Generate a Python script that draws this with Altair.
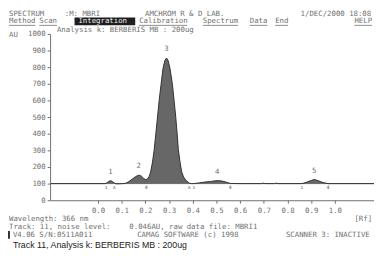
import altair as alt
import pandas as pd

# ---------------- data ----------------
rf = [-0.2, 0.0, 0.030, 0.038, 0.045, 0.052, 0.060, 0.068, 0.075, 0.090, 0.105,
      0.117, 0.130, 0.145, 0.160, 0.172, 0.182, 0.192, 0.200, 0.207, 0.215,
      0.222, 0.230, 0.237, 0.244, 0.251, 0.258, 0.266, 0.274, 0.282, 0.289,
      0.296, 0.304, 0.314, 0.321, 0.328, 0.334, 0.339, 0.346, 0.353, 0.361,
      0.372, 0.386, 0.395, 0.405, 0.425, 0.450, 0.475, 0.503, 0.525, 0.545,
      0.558, 0.600, 0.690, 0.697, 0.705, 0.745, 0.752, 0.760, 0.861, 0.880,
      0.900, 0.913, 0.930, 0.950, 0.971, 1.165]
au = [100, 100, 100, 105, 113, 118, 113, 104, 99, 99, 100,
      102, 112, 128, 143, 151, 146, 132, 124, 126, 140,
      170, 230, 304, 400, 500, 600, 696, 790, 840, 855,
      840, 790, 696, 600, 500, 400, 304, 230, 170, 140,
      118, 102, 100, 100, 104, 109, 113, 118, 115, 107,
      101, 100, 100, 103, 100, 100, 103, 100, 100, 108,
      119, 125, 117, 106, 100, 100]

peak_ids = ["1", "2", "3", "4", "5"]
peak_rf = [0.052, 0.172, 0.289, 0.503, 0.913]
peak_au = [118, 151, 855, 118, 125]

bound_rf = [0.035, 0.068, 0.203, 0.385, 0.405, 0.558, 0.861, 0.971]
bound_mk = ["ı", "ʌ", "4", "ʌ", "ı", "4", "ı", "4"]

baseline_au = [100]
y_ticks = [0, 100, 200, 300, 400, 500, 600, 700, 800, 900, 1000]
x_ticks = [0.0, 0.1, 0.2, 0.3, 0.4, 0.5, 0.6, 0.7, 0.8, 0.9, 1.0]
x_domain = [-0.2025, 1.165]
y_domain = [0, 1000]

MONO = "DejaVu Sans Mono"
GREY = "#6f6f6f"
OX, OY = 51, 31.7   # page position of plot origin

signal = pd.DataFrame({"rf": rf, "au": au})
peaks = pd.DataFrame({"id": peak_ids, "rf": peak_rf, "au": peak_au})
bounds = pd.DataFrame({"rf": bound_rf, "mk": bound_mk, "au": [baseline_au[0]] * len(bound_rf)})

xs = alt.Scale(domain=x_domain, nice=False, zero=False)
ys = alt.Scale(domain=y_domain, nice=False)

x_axis = alt.Axis(values=x_ticks, format=".1f", title=None, grid=False,
                  labelFont=MONO, labelFontSize=7.5, labelColor=GREY,
                  tickColor=GREY, domainColor=GREY, tickSize=3,
                  labelPadding=4, labelFlush=False, labelOverlap=False)
y_axis = alt.Axis(values=y_ticks, format="d", title=None, grid=False,
                  labelFont=MONO, labelFontSize=7.5, labelColor=GREY,
                  tickColor=GREY, domainColor=GREY, tickSize=3,
                  labelPadding=2, labelFlush=False, labelOverlap=False)

area = alt.Chart(signal).mark_area(color="#262626", line={"color": "#303030", "strokeWidth": 1}).encode(
    x=alt.X("rf:Q", scale=xs, axis=x_axis),
    y=alt.Y("au:Q", scale=ys, axis=y_axis),
    y2=alt.datum(baseline_au[0]),
)

base = alt.Chart(pd.DataFrame({"b": baseline_au})).mark_rule(color="#8a8a8a", strokeWidth=1).encode(
    y=alt.Y("b:Q", scale=ys, axis=y_axis)
)

plabels = alt.Chart(peaks).mark_text(font=MONO, fontSize=7.5, color=GREY, dy=-5, baseline="bottom").encode(
    x=alt.X("rf:Q", scale=xs, axis=x_axis), y=alt.Y("au:Q", scale=ys, axis=y_axis), text="id:N"
)

bmarks = alt.Chart(bounds).mark_text(font=MONO, fontSize=5, color="#555", dy=4, baseline="middle").encode(
    x=alt.X("rf:Q", scale=xs, axis=x_axis), y=alt.Y("au:Q", scale=ys, axis=y_axis), text="mk:N"
)


def label(txt, px, py, size=7.5, color=GREY, font=MONO, align="left", weight="normal"):
    return alt.Chart(alt.Data(values=[{}])).mark_text(
        text=txt, x=px - OX, y=py - OY, font=font, fontSize=size, color=color,
        align=align, baseline="middle", fontWeight=weight)


def box(x1, x2, y1, y2, color):
    return alt.Chart(alt.Data(values=[{}])).mark_rect(color=color).encode(
        x=alt.value(x1 - OX), x2=alt.value(x2 - OX), y=alt.value(y1 - OY), y2=alt.value(y2 - OY))


def hline(x1, x2, yy, color=GREY):
    return alt.Chart(alt.Data(values=[{}])).mark_rule(color=color, strokeWidth=0.8).encode(
        x=alt.value(x1 - OX), x2=alt.value(x2 - OX), y=alt.value(yy - OY))


texts = [
    label("SPECTRUM", 9, 11),
    label(":M: MBRI", 66, 11),
    label("AMCHROM R & D LAB.", 148, 11),
    label("1/DEC/2000 18:08", 307, 11),
    box(76, 138, 15, 23, "#1e1e1e"),
    label("Method", 9, 19),
    label("Scan", 40, 19),
    label("Integration", 80, 19, color="#f0f0f0"),
    label("Calibration", 142, 19),
    label("Spectrum", 207, 19),
    label("Data", 255, 19),
    label("End", 281, 19),
    label("HELP", 362, 19),
    hline(9, 36, 23), hline(40, 58, 23), hline(142, 191, 23), hline(207, 243, 23),
    hline(255, 273, 23), hline(281, 294, 23), hline(362, 380, 23),
    label("Analysis k: BERBERIS MB : 200ug", 58, 27.5),
    label("AU", 9, 33),
    label("Wavelength: 366 nm", 9, 221),
    label("[Rf]", 362, 221),
    label("Track: 11, noise level:", 9, 229),
    label("0.046AU, raw data file: MBRI1", 132, 229),
    box(8, 10, 233, 241, "#333333"),
    label("V4.06 S/N:0511A011", 13, 237),
    label("CAMAG SOFTWARE (c) 1998", 140, 237),
    label("SCANNER 3: INACTIVE", 292, 237),
    label("Track 11, Analysis k: BERBERIS MB : 200ug", 13, 248, size=9,
          color="#222222", font="Liberation Sans"),
]

chart = alt.layer(base, area, plabels, bmarks, *texts).properties(
    width=331, height=170,
    padding={"left": 43, "top": 23.7, "right": 0, "bottom": 58.3},
    autosize="none",
    background="white",
).configure_view(stroke=None)

chart.save("out.html", embed_options={"renderer": "svg", "actions": False})
